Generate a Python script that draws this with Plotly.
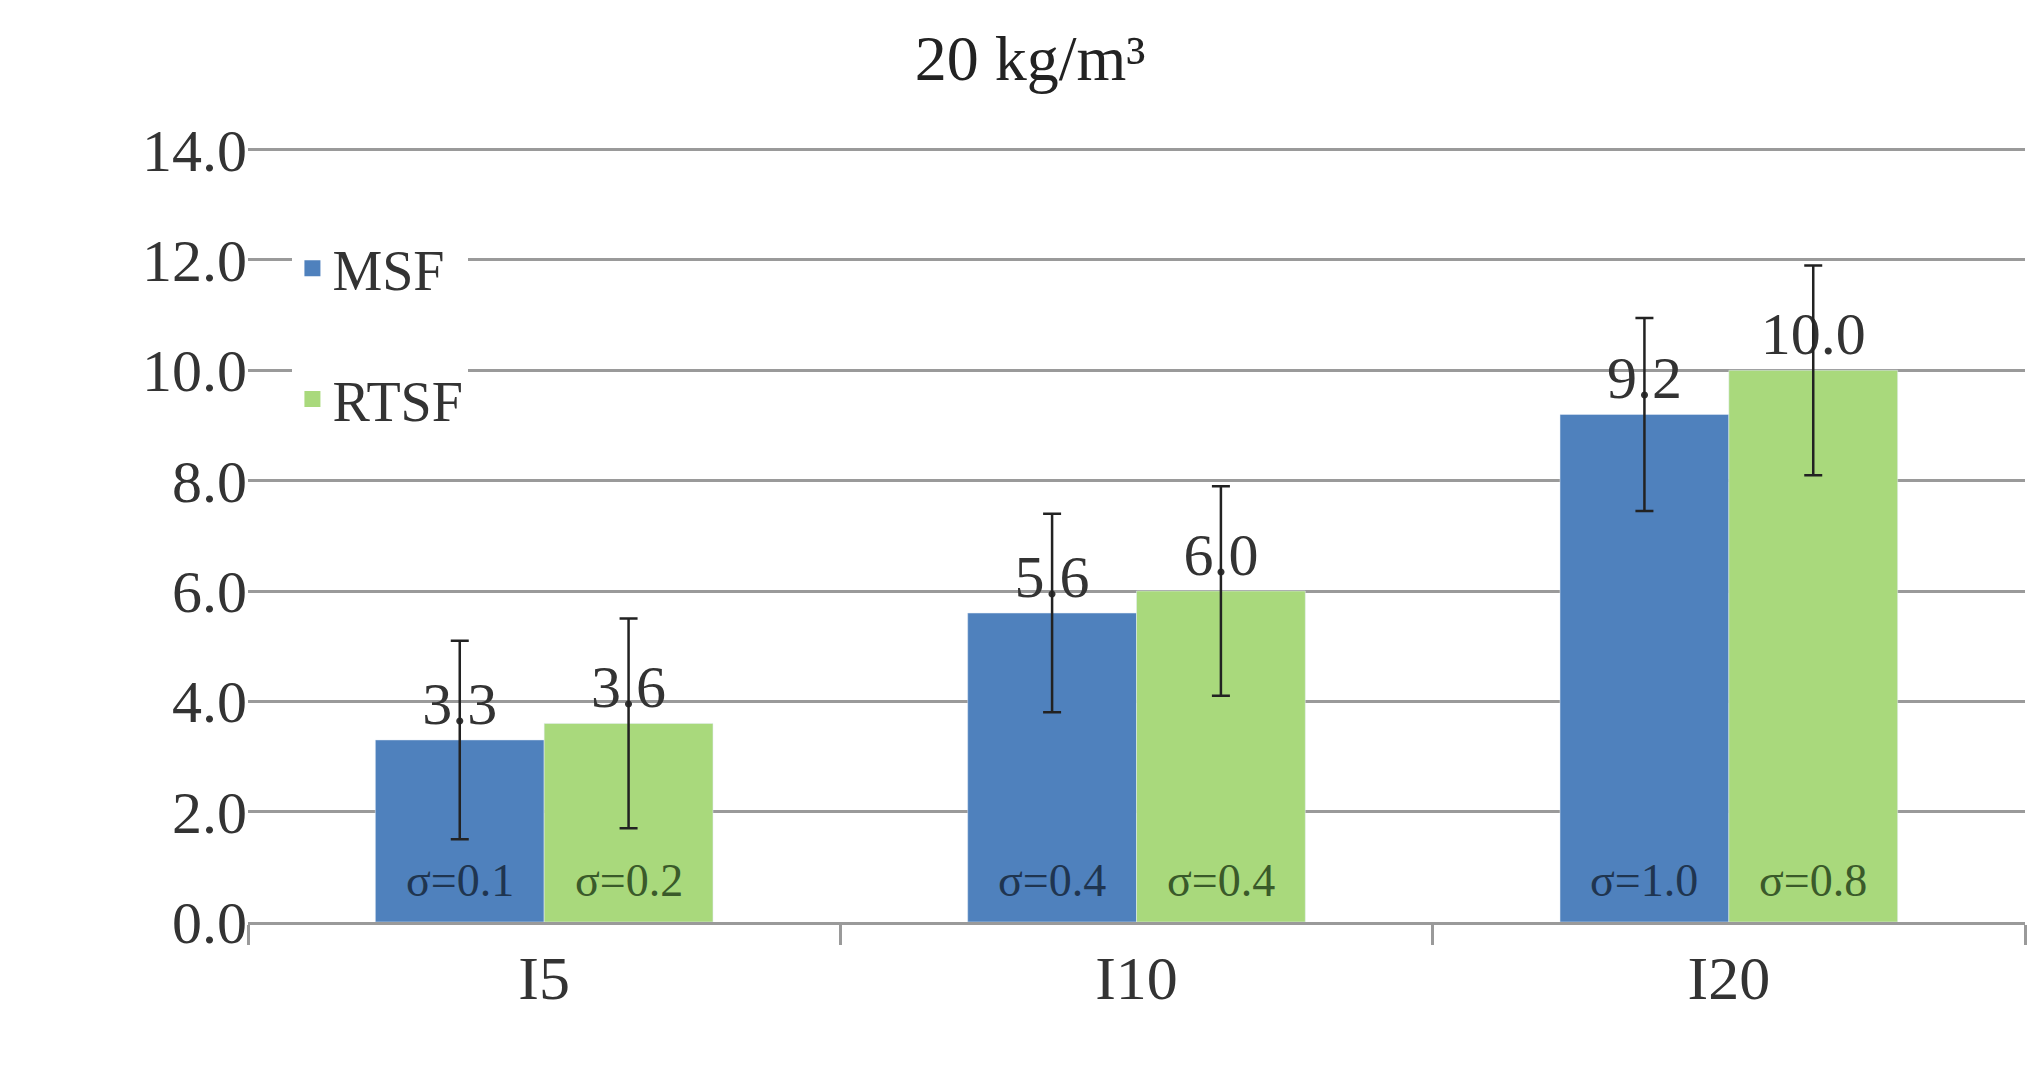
import plotly.graph_objects as go

categories = ["I5", "I10", "I20"]
msf = [3.3, 5.6, 9.2]
rtsf = [3.6, 6.0, 10.0]
msf_err = [1.8, 1.8, 1.75]
rtsf_err = [1.9, 1.9, 1.9]
msf_sigma = ["σ=0.1", "σ=0.4", "σ=1.0"]
rtsf_sigma = ["σ=0.2", "σ=0.4", "σ=0.8"]

W, H = 2044, 1071
ml, mr, mt, mb = 240, 27, 140, 157
bargap = 0.43
font = "Liberation Serif"
c_msf, c_rtsf = "#4f81bd", "#a9d97c"

fig = go.Figure()
fig.add_bar(name="MSF", x=categories, y=msf, marker_color=c_msf, showlegend=False,
            error_y=dict(type="data", array=msf_err, color="#222", thickness=2.5, width=9),
            text=[f"{v:.1f}" for v in msf], textposition="outside",
            textfont=dict(size=60, color="#333", family=font), cliponaxis=False)
fig.add_bar(name="RTSF", x=categories, y=rtsf, marker_color=c_rtsf, showlegend=False,
            error_y=dict(type="data", array=rtsf_err, color="#222", thickness=2.5, width=9),
            text=[f"{v:.1f}" for v in rtsf], textposition="outside",
            textfont=dict(size=60, color="#333", family=font), cliponaxis=False)
fig.add_scatter(name="MSF", x=[None], y=[None], mode="markers", legendgroup="a",
                marker=dict(symbol="square", size=30, color=c_msf))
fig.add_scatter(name="RTSF", x=[None], y=[None], mode="markers", legendgroup="b",
                marker=dict(symbol="square", size=30, color=c_rtsf))

catw = (W - ml - mr) / 3
barw = catw * (1 - bargap) / 2
for i, c in enumerate(categories):
    fig.add_annotation(x=c, y=0.75, text=msf_sigma[i], showarrow=False, xshift=-barw / 2,
                       font=dict(size=46, color="#1f3550", family=font))
    fig.add_annotation(x=c, y=0.75, text=rtsf_sigma[i], showarrow=False, xshift=barw / 2,
                       font=dict(size=46, color="#3a5a2a", family=font))

fig.update_layout(
    width=W, height=H, margin=dict(l=ml, r=mr, t=mt, b=mb),
    paper_bgcolor="white", plot_bgcolor="white",
    barmode="group", bargap=bargap, bargroupgap=0,
    title=dict(text="20 kg/m³", x=0.5, xanchor="center", y=0.975, yanchor="top",
               font=dict(size=64, color="#222", family=font)),
    font=dict(family=font, color="#333"),
    showlegend=True,
    legend=dict(x=0.025, y=0.9, xanchor="left", yanchor="top", bgcolor="white",
                font=dict(size=56, family=font, color="#333"), tracegroupgap=55,
                itemwidth=30),
    yaxis=dict(range=[0, 14.03], dtick=2, tickformat=".1f", gridcolor="#9a9a9a", gridwidth=2.5,
               tickfont=dict(size=60, family=font, color="#333"), zeroline=False,
               showline=False, ticks="", ticklen=0),
    xaxis=dict(showline=True, linecolor="#9a9a9a", linewidth=2.5, ticks="outside",
               tickson="boundaries", ticklen=20, tickcolor="#9a9a9a", tickwidth=2.5,
               tickfont=dict(size=62, family=font, color="#333")),
)
fig.write_html("out.html")
